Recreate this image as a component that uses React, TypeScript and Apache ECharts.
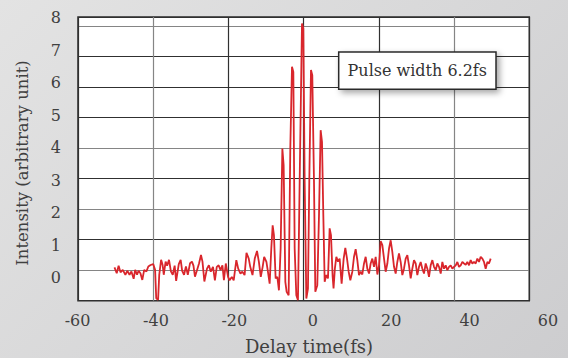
import React, { useEffect, useRef } from "react";
import * as echarts from "echarts";

// Delay time (fs) and intensity (arbitrary unit)
const delayFs = [
  -50.3, -49.7, -49.2, -48.7, -48.1, -47.4, -46.9, -46.3, -45.8, -45.2, -44.8, -44.3, -43.9, -43.4, -42.9, -42.4,
  -41.8, -41.3, -40.7, -40.0, -39.5, -39.2, -38.7, -38.4, -37.9, -37.5, -37.2, -36.7, -36.3, -35.8, -35.3, -34.8,
  -34.3, -33.9, -33.2, -32.7, -32.3, -31.8, -31.3, -30.8, -30.2, -29.7, -29.3, -28.9, -28.4, -27.8, -27.3, -26.9,
  -26.4, -25.7, -25.2, -24.7, -24.1, -23.6, -23.1, -22.6, -22.1, -21.6, -21.2, -20.7, -20.1, -19.7, -19.1, -18.6,
  -17.9, -17.4, -16.8, -16.3, -15.7, -15.2, -14.6, -14.2, -13.6, -13.0, -12.4, -11.9, -11.4, -10.9, -10.5, -9.9,
  -9.5, -9.04, -8.6, -8.24, -7.9, -7.45, -7.0, -6.57, -6.12, -5.66, -5.32, -4.87, -4.52, -3.99, -3.55, -3.1,
  -2.74, -2.39, -1.95, -1.51, -1.06, -0.44, -0.09, 0.27, 0.71, 1.15, 1.5, 1.95, 2.3, 2.75, 3.1, 3.63,
  4.08, 4.52, 4.88, 5.23, 5.59, 6.03, 6.47, 6.91, 7.27, 7.7, 7.95, 8.3, 8.69, 9.13, 9.57, 10.1,
  10.64, 11.08, 11.53, 11.97, 12.41, 12.94, 13.39, 13.83, 14.27, 14.72, 15.16, 15.6, 16.05, 16.49, 16.93, 17.38,
  17.82, 18.26, 18.71, 19.15, 19.6, 20.04, 20.48, 20.93, 21.37, 21.81, 22.26, 22.7, 23.14, 23.58, 24.03, 24.47,
  24.91, 25.35, 25.8, 26.24, 26.68, 27.13, 27.57, 28.01, 28.46, 28.9, 29.34, 29.79, 30.23, 30.67, 31.12, 31.56,
  32.0, 32.45, 32.89, 33.33, 33.78, 34.22, 34.66, 35.11, 35.55, 35.99, 36.44, 36.88, 37.32, 37.77, 38.21, 38.65,
  39.1, 39.54, 39.98, 40.43, 40.87, 41.31, 41.76, 42.2, 42.64, 43.09, 43.53, 43.97, 44.41, 44.86, 45.3, 45.74,
  46.19, 46.63, 47.07, 47.52, 47.96, 48.4, 48.85, 49.29, 49.73,
];

const intensity = [
  0.09, -0.1, 0.15, -0.07, 0.01, -0.15, -0.02, -0.15, -0.04, -0.28, 0.01, -0.15, -0.02, -0.1, -0.32, 0.01,
  -0.04, 0.12, 0.17, 0.2, 0.01, -0.92, -0.97, -0.15, 0.34, 0.17, -0.15, 0.28, 0.15, 0.34, -0.04, -0.15,
  0.15, -0.35, 0.2, 0.34, -0.02, -0.15, 0.12, -0.15, 0.23, 0.28, 0.15, -0.21, -0.02, 0.23, 0.5, 0.28,
  -0.37, 0.05, 0.16, -0.05, 0.11, -0.33, 0.11, 0.16, 0.0, 0.16, -0.33, 0.22, -0.22, -0.33, -0.22, -0.33,
  0.33, 0.05, -0.11, -0.05, -0.16, 0.57, 0.38, 0.11, -0.16, 0.38, 0.63, 0.27, -0.22, 0.11, 0.44, 0.27,
  -0.05, -0.44, 0.72, 1.47, 1.15, -0.27, -0.22, -0.66, 0.71, 3.99, 3.44, -0.38, -0.71, -0.82, 3.99, 6.67,
  6.5, 0.71, -0.82, -0.98, 2.9, 8.09, 7.92, 2.9, -0.93, -0.6, 2.9, 6.56, 6.39, 2.9, -0.71, -0.49,
  1.8, 4.59, 4.21, 1.8, -0.38, -0.16, -0.27, 1.37, 1.15, -0.2, -0.6, 0.05, 0.44, 0.28, 0.38, -0.44,
  0.38, 0.73, 0.38, -0.05, -0.33, -0.05, 0.44, 0.69, 0.33, -0.16, -0.05, -0.14, 0.22, 0.44, 0.05, -0.11,
  0.22, 0.38, 0.11, 0.44, -0.14, 0.16, 0.95, 0.82, 0.38, -0.05, 0.22, 0.71, 0.98, 0.6, 0.11, -0.11,
  0.27, 0.55, 0.27, -0.16, 0.05, 0.38, 0.49, 0.16, -0.27, 0.05, 0.33, 0.22, -0.16, 0.11, 0.27, 0.05,
  -0.11, 0.22, 0.05, -0.22, 0.16, 0.33, 0.11, 0.0, 0.22, 0.11, -0.11, 0.27, 0.05, 0.16, 0.0, 0.11,
  0.16, 0.05, 0.11, 0.16, 0.27, 0.11, 0.16, 0.27, 0.22, 0.18, 0.27, 0.16, 0.33, 0.22, 0.27, 0.22,
  0.38, 0.27, 0.44, 0.38, 0.27, 0.05, 0.27, 0.22, 0.38,
];

const xTickLabels = [-60, -40, -20, 0, 20, 40, 60];
const yTickLabels = [0, 1, 2, 3, 4, 5, 6, 7, 8];
const xTitle = "Delay time(fs)";
const yTitle = "Intensity (arbitrary unit)";
const annotation = "Pulse width 6.2fs";

const FONT = "DejaVu Serif";
const DARK = "#303030";
const GRAY = "#858585";
const TEXT = "#404040";

export default function App() {
  const ref = useRef<HTMLDivElement>(null);

  useEffect(() => {
    if (!ref.current) return;
    const chart = echarts.init(ref.current, null, { renderer: "svg" });
    const data = delayFs.map((x, i) => [x, intensity[i]]);
    const plotLeft = 78;
    const plotTop = 17;
    const plotW = 451.3;
    const plotH = 283.7;

    chart.setOption({
      animation: false,
      backgroundColor: "transparent",
      grid: [
        {
          left: plotLeft,
          top: plotTop,
          width: plotW,
          height: plotH,
          show: true,
          backgroundColor: "#ffffff",
          borderColor: "#2a2a2a",
          borderWidth: 1.5,
        },
        { left: 77.5, top: plotTop, width: 470.5, height: plotH, show: false },
        { left: plotLeft, top: 17.5, width: plotW, height: 260, show: false },
      ],
      xAxis: [
        {
          gridIndex: 0,
          type: "value",
          min: -60,
          max: 60,
          interval: 20,
          axisLine: { show: false },
          axisTick: { show: false },
          axisLabel: { show: false },
          splitLine: {
            show: true,
            lineStyle: { color: [DARK, GRAY, DARK, DARK, DARK, GRAY, DARK], width: 1.2 },
          },
        },
        {
          gridIndex: 1,
          type: "value",
          min: xTickLabels[0],
          max: xTickLabels[xTickLabels.length - 1],
          interval: 20,
          axisLine: { show: false },
          axisTick: { show: false },
          splitLine: { show: false },
          axisLabel: {
            show: true,
            showMinLabel: true,
            showMaxLabel: true,
            fontFamily: FONT,
            fontSize: 16,
            color: TEXT,
            margin: 12,
          },
        },
        { gridIndex: 2, type: "value", min: 0, max: 1, show: false },
      ],
      yAxis: [
        {
          gridIndex: 0,
          type: "value",
          min: -1,
          max: 8.3,
          interval: 1,
          axisLine: { show: false },
          axisTick: { show: false },
          axisLabel: { show: false },
          splitLine: {
            show: true,
            lineStyle: {
              color: [DARK, GRAY, DARK, GRAY, DARK, GRAY, DARK, DARK, DARK, GRAY, DARK],
              width: 1.2,
            },
          },
        },
        { gridIndex: 1, type: "value", min: 0, max: 1, show: false },
        {
          gridIndex: 2,
          type: "value",
          min: yTickLabels[0],
          max: yTickLabels[yTickLabels.length - 1],
          interval: 1,
          axisLine: { show: false },
          axisTick: { show: false },
          splitLine: { show: false },
          axisLabel: {
            show: true,
            showMinLabel: true,
            showMaxLabel: true,
            fontFamily: FONT,
            fontSize: 16,
            color: TEXT,
            margin: 17,
          },
        },
      ],
      series: [
        {
          type: "line",
          xAxisIndex: 0,
          yAxisIndex: 0,
          data,
          showSymbol: false,
          symbol: "none",
          lineStyle: { color: "#d9262c", width: 1.8 },
          z: 5,
        },
      ],
      graphic: [
        {
          type: "rect",
          z: 100,
          shape: { x: 338.7, y: 52, width: 157.3, height: 37.3 },
          style: {
            fill: "#ffffff",
            stroke: "#2a2a2a",
            lineWidth: 1.5,
            shadowBlur: 6,
            shadowOffsetX: 3,
            shadowOffsetY: 3,
            shadowColor: "rgba(0,0,0,0.35)",
          },
        },
        {
          type: "text",
          z: 101,
          x: 417.3,
          y: 70.7,
          style: {
            text: annotation,
            font: `16px "${FONT}"`,
            fill: "#333333",
            align: "center",
            verticalAlign: "middle",
          },
        },
        {
          type: "text",
          z: 101,
          x: 309,
          y: 346,
          style: {
            text: xTitle,
            font: `18px "${FONT}"`,
            fill: TEXT,
            align: "center",
            verticalAlign: "middle",
          },
        },
        {
          type: "text",
          z: 101,
          x: 22.5,
          y: 163,
          rotation: Math.PI / 2,
          style: {
            text: yTitle,
            font: `16.5px "${FONT}"`,
            fill: TEXT,
            align: "center",
            verticalAlign: "middle",
          },
        },
      ],
    });

    return () => chart.dispose();
  }, []);

  return (
    <div
      style={{
        position: "absolute",
        left: 0,
        top: 0,
        width: 568,
        height: 358,
        background: "linear-gradient(135deg, #e3e3e3 0%, #d8d8d9 50%, #cdcdcf 100%)",
      }}
    >
      <div ref={ref} style={{ width: 568, height: 358 }} />
    </div>
  );
}
